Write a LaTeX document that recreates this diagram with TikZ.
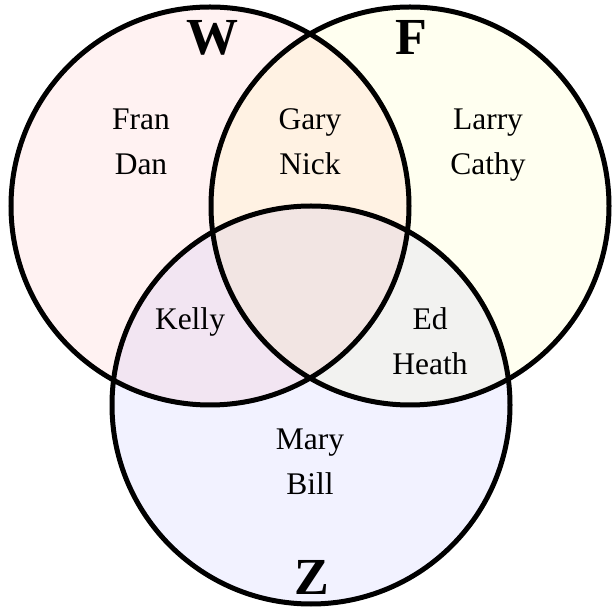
\documentclass[tikz,border=0pt]{standalone}
\usepackage{fontspec}
\setmainfont{Liberation Serif}
\definecolor{wfill}{RGB}{255,242,242}
\definecolor{ffill}{RGB}{255,255,240}
\definecolor{zfill}{RGB}{242,242,255}
\begin{document}
\begin{tikzpicture}[x=1pt,y=1pt,
    setline/.style={line width=5pt},
    setname/.style={anchor=base,font=\fontsize{52}{52}\selectfont\bfseries},
    member/.style={anchor=base,align=center,font=\fontsize{31.5}{45}\selectfont}]
\useasboundingbox (0,0) rectangle (612,613);

% Centres of the three sets
\coordinate (cW) at (210,407);
\coordinate (cF) at (410,407);
\coordinate (cZ) at (311,208);

% Fills, mixed where the sets overlap
\begin{scope}[blend group=multiply]
\fill[wfill] (cW) circle (199pt);
\fill[ffill] (cF) circle (199pt);
\fill[zfill] (cZ) circle (199pt);
\end{scope}

% Outlines
\draw[setline] (cW) circle (199pt);
\draw[setline] (cF) circle (199pt);
\draw[setline] (cZ) circle (199pt);

% Set names
\node[setname] (W) at (212,558) {W};
\node[setname] (F) at (411,558) {F};
\node[setname] (Z) at (312,18) {Z};

% Members (base = last line)
\node[member] (onlyW) at (141,438) {Fran\\Dan};
\node[member] (WF) at (310,438) {Gary\\Nick};
\node[member] (onlyF) at (488,438) {Larry\\Cathy};
\node[member] (WZ) at (190,283) {Kelly};
\node[member] (FZ) at (430,238) {Ed\\Heath};
\node[member] (onlyZ) at (310,118) {Mary\\Bill};

\end{tikzpicture}
\end{document}
